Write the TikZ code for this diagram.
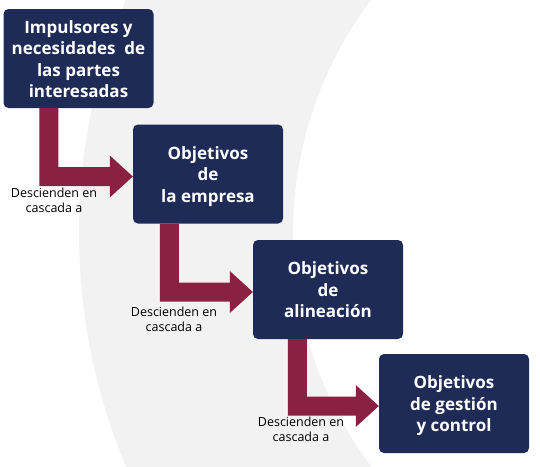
\documentclass[tikz,border=0pt]{standalone}
\usepackage{fontspec}
\setmainfont{Open Sans}
\usetikzlibrary{calc}
\definecolor{navy}{HTML}{1F2B57}
\definecolor{maroon}{HTML}{8A2142}
\definecolor{bggray}{HTML}{F2F2F2}
\tikzset{
  box/.style={fill=navy, rounded corners=5pt, minimum width=150pt, minimum height=99pt,
    inner sep=2pt, text=white, font=\bfseries\fontsize{17}{21.5}\selectfont},
  cascade/.style={fill=maroon},
  lbl/.style={align=center, text=black, inner sep=0pt, font=\fontsize{12.5}{15.5}\selectfont}
}
\newcommand\boxtext[1]{\raisebox{-2.5pt}[\height][\depth]{\begin{tabular}{@{}c@{}}#1\end{tabular}}}
% #1 from, #2 to, #3 bar offset from left edge of #1
\newcommand\cascarrow[3]{%
  \coordinate (T) at ([yshift=-2.5pt]#2.west);
  \fill[cascade] ([xshift=#3]#1.south west)
    -- ([xshift=#3+19pt]#1.south west)
    |- ([xshift=-23pt,yshift=9.5pt]T)
    -- ([xshift=-23pt,yshift=21pt]T)
    -- (T)
    -- ([xshift=-23pt,yshift=-21pt]T)
    -- ([xshift=-23pt,yshift=-9.5pt]T)
    -| ([xshift=#3]#1.south west) -- cycle;
}
\begin{document}
\begin{tikzpicture}[x=1pt,y=-1pt]
\useasboundingbox (0,0) rectangle (540,466);
\begin{scope}
  \clip (0,0) rectangle (540,466);
  \fill[bggray, even odd rule] (680,233) circle[radius=601] (680,233) circle[radius=387];
\end{scope}
\node[box] (b1) at (78.5,58.5) {\boxtext{Impulsores y\\necesidades\ \ de\\las partes\\interesadas}};
\node[box] (b2) at (208,174) {\boxtext{Objetivos\\de\\la empresa}};
\node[box] (b3) at (328,289.5) {\boxtext{Objetivos\\de\\alineación}};
\node[box] (b4) at (454,403.5) {\boxtext{Objetivos\\de gestión\\y control}};
\cascarrow{b1}{b2}{36pt}
\cascarrow{b2}{b3}{27pt}
\cascarrow{b3}{b4}{35pt}
\node[lbl] (l1) at (54,200.5) {Descienden en\\cascada a};
\node[lbl] (l2) at (174,319.5) {Descienden en\\cascada a};
\node[lbl] (l3) at (301,429.5) {Descienden en\\cascada a};
\end{tikzpicture}
\end{document}
